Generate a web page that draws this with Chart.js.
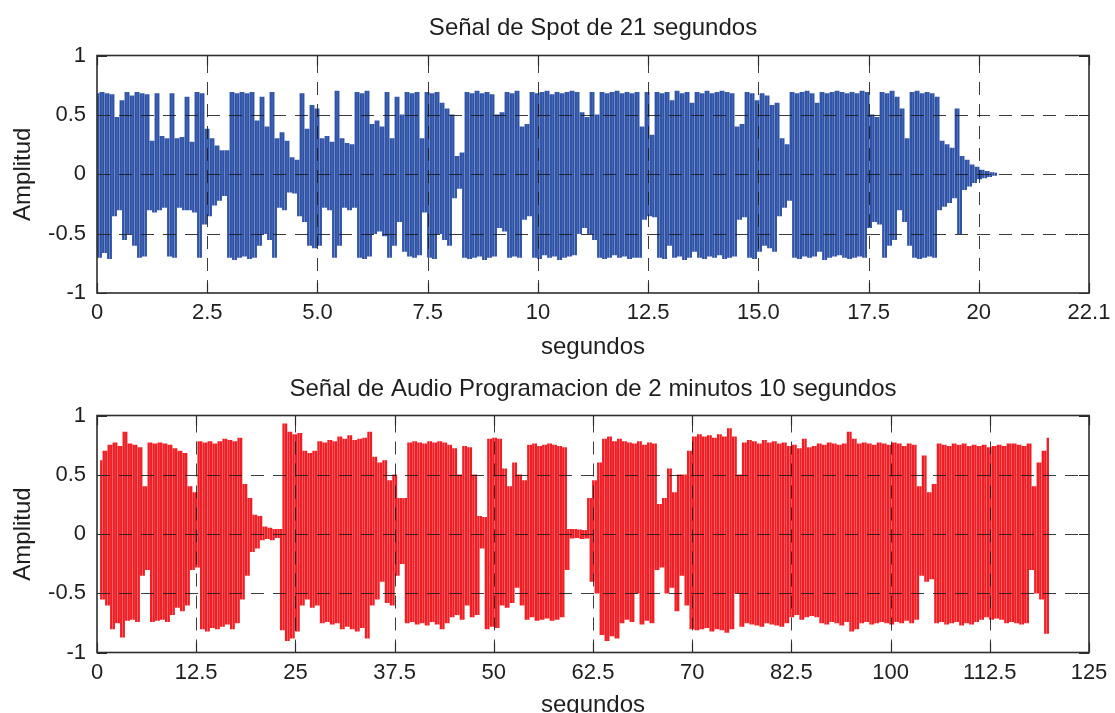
<!DOCTYPE html>
<html>
<head>
<meta charset="utf-8">
<script src="https://cdn.jsdelivr.net/npm/chart.js@4.4.1/dist/chart.umd.min.js"></script>
<style>
html,body{margin:0;padding:0;background:#fff;}
#wrap{position:relative;width:1115px;height:713px;overflow:hidden;background:#fff;}
canvas{position:absolute;left:0;}
#c1{top:0;}
#c2{top:357px;}
</style>
</head>
<body>
<div id="wrap">
<canvas id="c1" width="1115" height="366"></canvas>
<canvas id="c2" width="1115" height="356"></canvas>
</div>
<script>
// ---------- text ----------
const spotTitle = 'Señal de Spot de 21 segundos';
const audioTitle = 'Señal de Audio Programacion de 2 minutos 10 segundos';
const xAxisTitle = 'segundos';
const yAxisTitle = 'Amplitud';

// ---------- tick labels ----------
const spotTickLabels = ['0','2.5','5.0','7.5','10','12.5','15.0','17.5','20','22.1'];
const audioTickLabels = ['0','12.5','25','37.5','50','62.5','70','82.5','100','112.5','125'];
const yTicks = [-1, -0.5, 0, 0.5, 1];

// ---------- sampling (seconds) ----------
const SPOT_X_MAX = 22.1, SPOT_START = 0, SPOT_STEP = 0.0557;
const AUDIO_X_MAX = 125, AUDIO_START = 0.38, AUDIO_STEP = 0.3147;

// ---------- signal peaks (amplitude) ----------
const spotSignal = [
 .68,-.7,.69,-.66,.68,-.71,.67, -.35,.48,-.3, .62,-.55,.69,-.5,.66,-.6,
 .69,-.7,.68,-.69,.67, -.3,.28,-.32, .68, -.3,.32,-.28,.3, -.69,.68,-.7,
 .3,-.28,.31,-.3, .65, -.3,.27,-.32, .69,-.7,.68, -.42,.38,-.35,.3,-.26,.24,-.22,
 .2,-.18,.2, -.7,.69,-.72,.68,-.7,.69,-.69,.68,-.71,.69,-.7,
 .45,-.6,.65,-.5,.4,-.55, .69,-.7, .3,-.28,.35,-.3,.28, -.15,.14,-.16,.12,
 -.35,.68,-.4,.38, -.6,.58,-.62,.55,-.6, .3,-.28,.32,-.3,.27, -.7,.7,
 -.6,.3,-.28,.26,-.3,.25,-.28, .69,-.7,.68,-.71,.7,-.69,
 .42,-.5,.45,-.48,.4,-.52,.69, -.7, .3,-.6,.65,-.4,.5,-.65,
 .69,-.69,.68,-.7,.69,-.68, .3,-.32, .69,-.7,.68,-.71,.69,
 -.5,.6,-.55,.55,-.6,.5, -.2,.15,-.12,.18,
 -.7,.69,-.71,.68,-.7,.7,-.69,.68,-.72,.69,-.7,.67,-.69, .5,-.45,.52,-.48,
 .69,-.7,.68,-.69,.7,-.7, .4,-.38,.42,-.35,
 .69,-.7,.68,-.71,.69,-.68,.7,-.7,.67,-.69,.69,-.72,.68,-.7,.69,-.69,.7,-.68,.69,
 -.5,.52,-.45,.48,-.5,.69,-.55,.5,
 -.7,.69,-.71,.68,-.7,.69,-.68,.7,-.7,.68,-.69,.69,-.71,.68,-.7,.69,-.7,
 .4,-.38, .69, -.35,.33,-.36,
 .69,-.7,.68,-.71,.69,-.6,.62,-.7,.7,-.69,.68,-.72,.69,-.7,.6,-.65,
 .69,-.7,.68,-.71,.7,-.69,.68,-.7,.69,-.68,.7,-.71,.69,-.7,.68,-.69,
 .4,-.38,.42,-.36, .69,-.7,.68,-.71, .62,-.65,.68,-.6,.66,-.62,.58,-.65,.6,
 -.35,.3,-.28,.25,-.22,
 .69,-.7,.68,-.71,.69,-.69,.7,-.7,.68,-.69,.6,-.65,.69,-.72,.68,-.7,
 .69,-.69,.7,-.68,.69,-.7,.68,-.71,.69,-.7,.68,-.69,.7,-.7,.69,
 -.45,.5,-.4,.48,-.42, .69,-.7,.68, -.6,.7,-.55,.65, -.3,.55,-.4,.3,-.6,
 .69,-.7,.7,-.71,.68,-.7,.69,-.69,.68,-.7, .65,
 -.3,.28,-.27,.25,-.24,.22,-.2, .55,-.5, .15,-.13,.12,-.1, .08,-.07,.06,
 -.04,.035,-.03,.025,-.02,.015,-.01,.01
];

const audioSignal = [
 .62,-.55,.7,-.6, .75,-.8,.77,-.75,.74,-.87,.86, -.73,.76,-.72,.75,-.74,.73,
 -.35,.4,-.3, .77,-.74,.76,-.73,.77,-.72,.76,-.74,.75, -.68,.72,-.62,.7,-.65,.68,-.6,
 .4,-.3,.35,-.28, .78,-.8,.77,-.82,.78,-.79,.76,-.8,.78, -.78,.8,-.76,.79,-.8,.78,-.75,.81,
 -.55,.42,-.35,.3, -.15,.16,-.12,.15, -.05,.06,-.04,.05,-.05,.04,-.03,.04,
 -.81,.93,-.9, .86,-.88,.84,-.82,.85, -.6,.7,-.55,.68,-.62,.7,-.6,
 .78,-.75,.77,-.74,.79,-.76,.78,-.75, .82,-.8,.8,-.78,.83,-.8,.79,-.82,.8,-.79,.81,-.88,.86,
 -.6,.65,-.55,.6,-.4,.62,-.58,.45,-.6,.5,-.35, .3,-.25,.3,
 -.75,.77,-.74,.78,-.76,.77,-.75,.76,-.77,.78,-.74,.77,-.76,.78,-.8,.77,-.75,
 .75,-.7,.72,-.68,.5,-.72,.74,-.6,.73,-.7,.5,-.68, .15,-.12,.14,
 -.8,.8,-.78,.81,-.79,.8, -.6,.55,-.62,.4,-.58,.6,-.45,.5,-.6,.45,
 -.72,.75,-.7,.76,-.73,.74,-.72,.75,-.71,.76,-.73,.75,-.72,.74,-.7,.73, -.3,
 .04,-.035,.04,-.03,.035,-.04,.03,-.035, .3,-.4,.45,-.5,.6,
 -.85,.8,-.9,.82,-.86,.78,-.88,.8, -.75,.78,-.72,.77,-.74,.76,-.5,.78,-.76,.75,-.73,.77,-.75,.76,
 -.3,.25,-.28,.3, -.5,.55,-.45,.35,-.65,.5, -.35,.5,-.6,.7,
 -.8,.82,-.81,.84,-.8,.82,-.79,.83,-.82,.81,-.8,.84,-.81,.82,-.83,.89,-.8,.82, -.5,.5,
 -.78,.77,-.75,.79,-.76,.78,-.77,.76,-.78,.79,-.75,.77,-.76,.78,-.77,.76,-.78,.77,-.75,
 .74,-.7,.75,-.68,.72,-.72,.8,-.7,.73,-.69,.74,-.7,
 .76,-.75,.75,-.76,.77,-.74,.76,-.75,.75,-.77,.76,-.74, .86,-.82,.8,-.8,
 .76,-.75,.77,-.74,.76,-.76,.75,-.75,.77,-.74,.76,-.75,.75,-.76,.77,-.74,.76,-.75,.74,-.73,.76,-.75,.75,-.72,
 .4,-.35,.66,-.4,.35,-.38,.42,
 -.75,.76,-.74,.75,-.76,.74,-.75,.76,-.74,.75,-.77,.76,-.75,.74,-.76,.75,-.74,
 .74,-.72,.75,-.7,.73,-.72,.74,-.71,.75,-.72,.74,
 -.75,.76,-.74,.76,-.75,.75,-.76,.74,-.75,.76,
 -.3,.4,-.5,.6,-.55,.7,-.84,.81
];

// ---------- style ----------
const FONT = 'Liberation Sans, Arial, Helvetica, sans-serif';
const TEXT_COLOR = '#1e1e1e';
const SPOT_COLOR = 'rgb(46,82,166)';
const AUDIO_COLOR = 'rgb(238,30,36)';
Chart.defaults.color = TEXT_COLOR;
Chart.defaults.font.family = FONT;

const matlabAxes = {
  id: 'matlabAxes',
  afterDatasetsDraw(chart) {
    const {ctx, chartArea: a, scales: {x, y}} = chart;
    ctx.save();
    ctx.lineWidth = 1;
    ctx.strokeStyle = 'rgba(25,25,25,0.85)';
    ctx.setLineDash([13, 9]);
    x.ticks.forEach(t => {
      const px = Math.round(x.getPixelForValue(t.value)) + 0.5;
      if (px > a.left + 3 && px < a.right - 3) {
        ctx.beginPath(); ctx.moveTo(px, a.bottom); ctx.lineTo(px, a.top); ctx.stroke();
      }
    });
    y.ticks.forEach(t => {
      const py = Math.round(y.getPixelForValue(t.value)) + 0.5;
      if (py > a.top + 3 && py < a.bottom - 3) {
        ctx.beginPath(); ctx.moveTo(a.left, py); ctx.lineTo(a.right, py); ctx.stroke();
      }
    });
    ctx.setLineDash([]);
    ctx.strokeStyle = '#2a2a2a';
    ctx.lineWidth = 1.2;
    const TL = 10;
    x.ticks.forEach(t => {
      const px = Math.round(x.getPixelForValue(t.value)) + 0.5;
      ctx.beginPath();
      ctx.moveTo(px, a.bottom); ctx.lineTo(px, a.bottom - TL);
      ctx.moveTo(px, a.top); ctx.lineTo(px, a.top + TL);
      ctx.stroke();
    });
    y.ticks.forEach(t => {
      const py = Math.round(y.getPixelForValue(t.value)) + 0.5;
      ctx.beginPath();
      ctx.moveTo(a.left, py); ctx.lineTo(a.left + TL, py);
      ctx.moveTo(a.right, py); ctx.lineTo(a.right - TL, py);
      ctx.stroke();
    });
    ctx.strokeStyle = '#2e2e2e';
    ctx.lineWidth = 1.6;
    ctx.strokeRect(a.left, a.top, a.right - a.left, a.bottom - a.top);
    ctx.restore();
  }
};

function makeChart(id, o) {
  // each vertical stroke of the waveform spans two consecutive peaks
  const strokes = [];
  for (let i = 0; i + 1 < o.signal.length; i++) {
    strokes.push({x: o.start + (i + 0.5) * o.step, y: [o.signal[i], o.signal[i + 1]]});
  }
  return new Chart(document.getElementById(id), {
    type: 'bar',
    data: {datasets: [{data: strokes, backgroundColor: o.color, borderWidth: 0, barThickness: 1.7}]},
    plugins: [matlabAxes],
    options: {
      responsive: false,
      animation: false,
      events: [],
      layout: {padding: {left: 0, right: 26, top: 0, bottom: o.padBottom}, autoPadding: false},
      plugins: {
        legend: {display: false},
        tooltip: {enabled: false},
        title: {
          display: true, text: o.title, color: TEXT_COLOR, fullSize: false,
          font: {family: FONT, size: 24, weight: 'normal', lineHeight: 1.2},
          padding: {top: o.titleTop, bottom: o.titleBottom}
        }
      },
      scales: {
        x: {
          type: 'linear', min: 0, max: o.xMax, offset: false,
          afterFit: s => { s.height = o.xHeight; },
          afterBuildTicks: s => {
            s.ticks = o.tickLabels.map((_, i) => ({value: i * o.xMax / (o.tickLabels.length - 1)}));
          },
          grid: {display: false},
          border: {display: false},
          ticks: {
            autoSkip: false, maxRotation: 0, minRotation: 0, padding: 4,
            font: {family: FONT, size: 22, lineHeight: 0.75}, color: TEXT_COLOR,
            callback: (v, i) => o.tickLabels[i]
          },
          title: {display: true, text: xAxisTitle, color: TEXT_COLOR,
            font: {family: FONT, size: 24, lineHeight: 1}, padding: {top: 0, bottom: o.xTitleBottom}}
        },
        y: {
          type: 'linear', min: -1, max: 1,
          afterFit: s => { s.width = 97; },
          afterBuildTicks: s => { s.ticks = yTicks.map(v => ({value: v})); },
          grid: {display: false},
          border: {display: false},
          ticks: {padding: 3, font: {family: FONT, size: 22}, color: TEXT_COLOR,
            callback: v => String(v)},
          title: {display: true, text: yAxisTitle, color: TEXT_COLOR,
            font: {family: FONT, size: 24, lineHeight: 1}, padding: {top: 11, bottom: 0}}
        }
      }
    }
  });
}

makeChart('c1', {
  signal: spotSignal, start: SPOT_START, step: SPOT_STEP, xMax: SPOT_X_MAX,
  tickLabels: spotTickLabels, title: spotTitle, color: SPOT_COLOR,
  titleTop: 13.6, titleBottom: 13.1, xHeight: 64, xTitleBottom: -2, padBottom: 9
});
makeChart('c2', {
  signal: audioSignal, start: AUDIO_START, step: AUDIO_STEP, xMax: AUDIO_X_MAX,
  tickLabels: audioTickLabels, title: audioTitle, color: AUDIO_COLOR,
  titleTop: 17.6, titleBottom: 12.1, xHeight: 60.5, xTitleBottom: -4, padBottom: 0
});
</script>
</body>
</html>
